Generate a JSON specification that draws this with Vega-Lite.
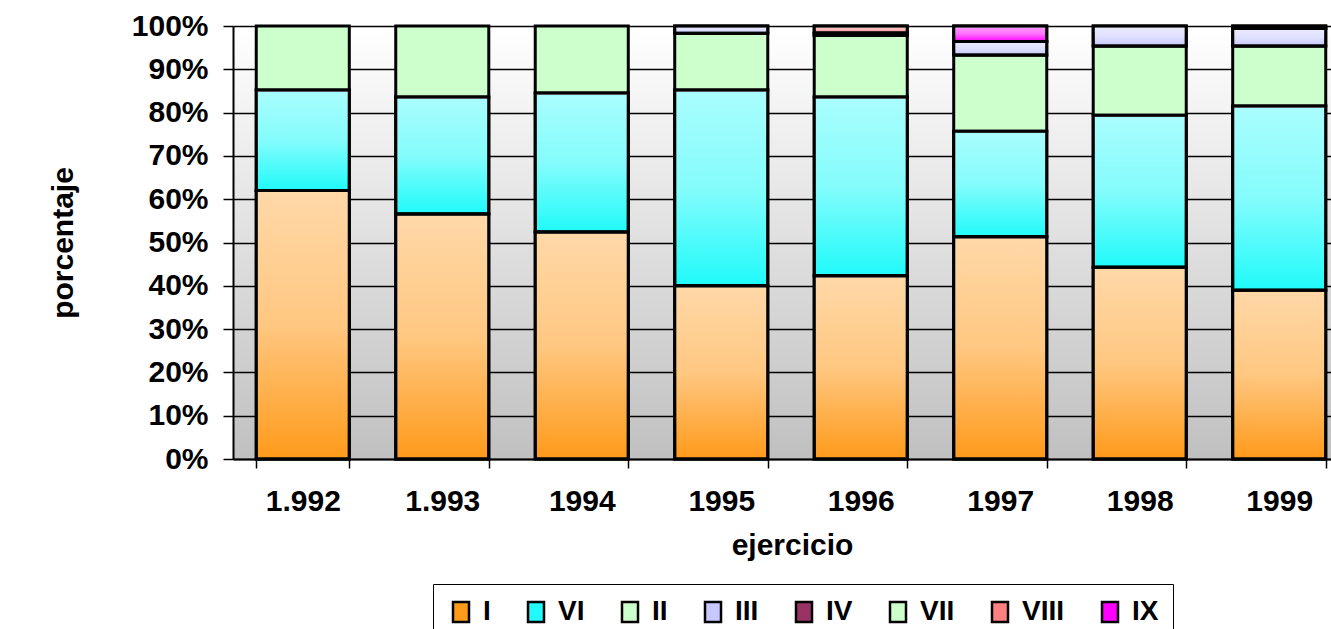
{
  "$schema": "https://vega.github.io/schema/vega-lite/v6.json",
  "autosize": {"type": "none"},
  "padding": {"left": 233, "top": 26, "right": 0, "bottom": 170},
  "width": 1098,
  "height": 433,
  "background": "white",
  "config": {
    "font": "Liberation Sans",
    "view": {
      "stroke": null,
      "fill": {"gradient": "linear", "x1": 0, "y1": 0, "x2": 0, "y2": 1,
        "stops": [{"offset": 0, "color": "#ffffff"}, {"offset": 1, "color": "#c0c0c0"}]}
    }
  },
  "data": {
    "values": [
      {"ejercicio": "1.992", "serie": "I", "valor": 62.0},
      {"ejercicio": "1.992", "serie": "VI", "valor": 23.2},
      {"ejercicio": "1.992", "serie": "II", "valor": 14.8},
      {"ejercicio": "1.993", "serie": "I", "valor": 56.6},
      {"ejercicio": "1.993", "serie": "VI", "valor": 27.0},
      {"ejercicio": "1.993", "serie": "II", "valor": 16.4},
      {"ejercicio": "1994", "serie": "I", "valor": 52.4},
      {"ejercicio": "1994", "serie": "VI", "valor": 32.1},
      {"ejercicio": "1994", "serie": "II", "valor": 15.5},
      {"ejercicio": "1995", "serie": "I", "valor": 40.0},
      {"ejercicio": "1995", "serie": "VI", "valor": 45.2},
      {"ejercicio": "1995", "serie": "II", "valor": 13.1},
      {"ejercicio": "1995", "serie": "III", "valor": 1.7},
      {"ejercicio": "1996", "serie": "I", "valor": 42.3},
      {"ejercicio": "1996", "serie": "VI", "valor": 41.3},
      {"ejercicio": "1996", "serie": "II", "valor": 14.2},
      {"ejercicio": "1996", "serie": "IV", "valor": 0.6},
      {"ejercicio": "1996", "serie": "VIII", "valor": 1.6},
      {"ejercicio": "1997", "serie": "I", "valor": 51.3},
      {"ejercicio": "1997", "serie": "VI", "valor": 24.4},
      {"ejercicio": "1997", "serie": "II", "valor": 17.6},
      {"ejercicio": "1997", "serie": "III", "valor": 3.1},
      {"ejercicio": "1997", "serie": "IX", "valor": 3.6},
      {"ejercicio": "1998", "serie": "I", "valor": 44.3},
      {"ejercicio": "1998", "serie": "VI", "valor": 35.1},
      {"ejercicio": "1998", "serie": "II", "valor": 16.0},
      {"ejercicio": "1998", "serie": "III", "valor": 4.6},
      {"ejercicio": "1999", "serie": "I", "valor": 39.0},
      {"ejercicio": "1999", "serie": "VI", "valor": 42.5},
      {"ejercicio": "1999", "serie": "II", "valor": 13.9},
      {"ejercicio": "1999", "serie": "III", "valor": 4.0},
      {"ejercicio": "1999", "serie": "IV", "valor": 0.6}
    ]
  },
  "transform": [
    {"stack": "valor", "groupby": ["ejercicio"], "offset": "normalize", "as": ["y0", "y1"]}
  ],
  "encoding": {
    "x": {
      "field": "ejercicio", "type": "nominal", "sort": null,
      "scale": {"range": [0, 1116], "paddingInner": 0.333, "paddingOuter": 0.1667},
      "axis": {
        "title": "ejercicio",
        "titleFont": "Liberation Sans", "titleFontSize": 30, "titleFontWeight": "bold", "titleColor": "black",
        "titleX": 559, "titleY": 95, "titleAlign": "center", "titleBaseline": "alphabetic",
        "labelAngle": 0, "labelFont": "Liberation Sans", "labelFontSize": 30, "labelFontWeight": "bold", "labelColor": "black",
        "labelPadding": 18,
        "domainColor": "black", "domainWidth": 2,
        "tickColor": "black", "tickWidth": 1.5, "tickSize": 9, "tickBand": "extent",
        "grid": false
      }
    },
    "y": {
      "field": "y1", "type": "quantitative",
      "scale": {"domain": [0, 1], "nice": false},
      "axis": {
        "title": "porcentaje",
        "titleFont": "Liberation Sans", "titleFontSize": 30, "titleFontWeight": "bold", "titleColor": "black",
        "titleX": -161, "titleBaseline": "alphabetic",
        "values": [0, 0.1, 0.2, 0.3, 0.4, 0.5, 0.6, 0.7, 0.8, 0.9, 1],
        "format": ".0%",
        "labelFont": "Liberation Sans", "labelFontSize": 30, "labelFontWeight": "bold", "labelColor": "black",
        "labelPadding": 15,
        "domainColor": "black", "domainWidth": 2,
        "tickColor": "black", "tickWidth": 1.5, "tickSize": 10,
        "grid": true, "gridColor": "black", "gridWidth": 1.5, "gridOpacity": 1
      }
    },
    "y2": {"field": "y0"}
  },
  "layer": [
    {
      "mark": {"type": "bar", "stroke": "black", "strokeWidth": 3, "opacity": 1},
      "encoding": {
        "color": {
          "field": "serie", "type": "nominal",
          "scale": {
            "domain": ["I", "VI", "II", "III", "IV", "VII", "VIII", "IX"],
            "range": ["#ff9a1a", "#20fafa", "#ccffcc", "#c8c8ff", "#993366", "#ccffcc", "#ff8080", "#ff00ff"]
          },
          "legend": {
            "title": null,
            "orient": "none", "legendX": 200, "legendY": 558,
            "direction": "horizontal", "columns": 8,
            "strokeColor": "black", "fillColor": "white", "padding": 14,
            "columnPadding": 31,
            "labelFont": "Liberation Sans", "labelFontSize": 28, "labelFontWeight": "bold", "labelColor": "black",
            "labelOffset": 8,
            "symbolType": "M-0.8,-1H0.8V1H-0.8Z", "symbolSize": 400,
            "symbolStrokeColor": "black", "symbolStrokeWidth": 2.5, "symbolOpacity": 1
          }
        }
      }
    },
    {
      "transform": [{"filter": "datum.serie != 'II'"}],
      "mark": {
        "type": "bar", "stroke": "black", "strokeWidth": 3,
        "fill": {"gradient": "linear", "x1": 0, "y1": 0, "x2": 0, "y2": 1,
          "stops": [
            {"offset": 0, "color": "rgba(255,255,255,0.62)"},
            {"offset": 0.5, "color": "rgba(255,255,255,0.45)"},
            {"offset": 1, "color": "rgba(255,255,255,0)"}
          ]}
      }
    }
  ]
}
